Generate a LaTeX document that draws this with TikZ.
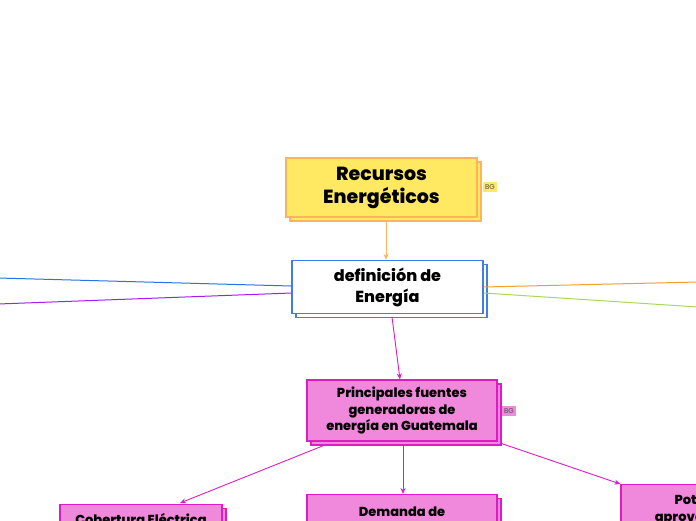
\documentclass[tikz,border=0pt]{standalone}
\usepackage{fontspec}
\setmainfont{Poppins}[BoldFont={Poppins ExtraBold}]
\usetikzlibrary{shadows,arrows.meta}
\definecolor{yelfill}{HTML}{FFE862}
\definecolor{yelline}{HTML}{FFB35C}
\definecolor{bluline}{HTML}{3D7FE6}
\definecolor{pinkfill}{HTML}{F088DC}
\definecolor{pinkline}{HTML}{DD1CC4}
\definecolor{purpline}{HTML}{A020E8}
\definecolor{orline}{HTML}{F0A030}
\definecolor{grline}{HTML}{A8D858}
\definecolor{blueedge}{HTML}{2A72E0}
\tikzset{
  topic/.style={draw, line width=1.2pt, align=center, font=\bfseries,
    copy shadow={shadow xshift=4pt, shadow yshift=-4pt}},
  yelbox/.style={topic, fill=yelfill, draw=yelline, font=\bfseries\fontsize{19}{23}\selectfont},
  whbox/.style={topic, fill=white, draw=bluline, font=\bfseries\fontsize{16}{21}\selectfont},
  pinkbox/.style={topic, fill=pinkfill, draw=pinkline, font=\bfseries\fontsize{13}{16.5}\selectfont},
  tag/.style={inner xsep=2pt, inner ysep=2pt, minimum height=10pt, font=\fontsize{7}{7}\selectfont, text=black!70},
  arr/.style={-{Stealth[length=6pt,width=5pt]}, line width=0.9pt},
}
\begin{document}
\begin{tikzpicture}[x=1pt,y=-1pt]
\useasboundingbox (0,0) rectangle (696,520);
\clip (0,0) rectangle (696,520);
\node[yelbox, minimum width=191pt, minimum height=59pt] (rec) at (381.5,187.5) {Recursos\\Energéticos};
\node[tag, fill=yelfill] (tag1) at (490,187) {BG};
\node[whbox, minimum width=191pt, minimum height=53pt] (def) at (387.5,287) {definición de\\Energía};
\node[pinkbox, minimum width=190pt, minimum height=61pt] (pri) at (402,410.5) {Principales fuentes\\generadoras de\\energía en Guatemala};
\node[tag, fill=pinkfill] (tag2) at (509,411) {BG};
\node[pinkbox, minimum width=162pt, minimum height=28pt, anchor=north, inner ysep=4pt] (cob) at (141,504) {Cobertura Eléctrica};
\node[pinkbox, minimum width=190pt, minimum height=50pt, anchor=north, inner ysep=3pt] (dem) at (402,494) {Demanda de\\electricidad};
\node[pinkbox, minimum width=190pt, minimum height=50pt, anchor=north, inner ysep=4pt] (pot) at (716,484) {Potencial de\\aprovechamiento};
\coordinate (l1) at (-2,278);
\coordinate (l2) at (-2,304);
\coordinate (r1) at (698,282);
\coordinate (r2) at (698,307);
\draw[blueedge, line width=1pt] (l1) -- (def.west |- 0,286);
\draw[purpline, line width=1pt] (l2) -- (def.west |- 0,293);
\draw[orline, line width=1pt] (def.east |- 0,287) -- (r1);
\draw[grline, line width=1pt] (def.east |- 0,293) -- (r2);
\draw[arr, yelline] (386,220) -- (def.north -| 386,0);
\draw[arr, pinkline] (392,317) -- (pri.north -| 400,0);
\draw[arr, pinkline] (325,445) -- (180,503);
\draw[arr, pinkline] (403,445) -- (dem.north -| 403,0);
\draw[arr, pinkline] (500,443) -- (pot.north west);
\end{tikzpicture}
\end{document}
